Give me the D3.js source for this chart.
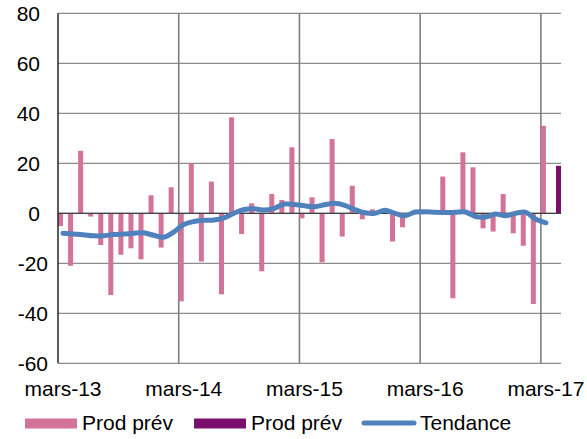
<!DOCTYPE html>
<html><head><meta charset="utf-8">
<script src="https://cdn.jsdelivr.net/npm/d3@7"></script>
<style>html,body{margin:0;padding:0;background:#fff;}svg{display:block;font-family:"Liberation Sans",Arial,sans-serif;}</style>
</head><body>
<svg id="c" width="587" height="439"></svg>
<script>
const categories = [
 "mars-13","avr.-13","mai-13","juin-13","juil.-13","août-13","sept.-13","oct.-13","nov.-13","déc.-13","janv.-14","févr.-14",
 "mars-14","avr.-14","mai-14","juin-14","juil.-14","août-14","sept.-14","oct.-14","nov.-14","déc.-14","janv.-15","févr.-15",
 "mars-15","avr.-15","mai-15","juin-15","juil.-15","août-15","sept.-15","oct.-15","nov.-15","déc.-15","janv.-16","févr.-16",
 "mars-16","avr.-16","mai-16","juin-16","juil.-16","août-16","sept.-16","oct.-16","nov.-16","déc.-16","janv.-17","févr.-17",
 "mars-17","avr.-17"];
const prodPrev = [
 -5.1,-21,25,-1.3,-12.7,-32.7,-16.6,-14,-18.4,7.2,-13.7,10.4,
 -35.2,20,-19.3,12.7,-32.4,38.4,-8.3,4,-23.2,7.7,5.3,26.4,
 -2,6.4,-19.6,29.7,-9.3,11,-2.4,1.6,0.4,-11.3,-5.6,0.5,
 -0.4,0.3,14.7,-34,24.4,18.4,-6,-7.3,7.7,-8,-13,-36.3,
 35,null];
const prodPrevLast = [null,null,null,null,null,null,null,null,null,null,null,null,
 null,null,null,null,null,null,null,null,null,null,null,null,
 null,null,null,null,null,null,null,null,null,null,null,null,
 null,null,null,null,null,null,null,null,null,null,null,null,
 null,19];
const tendance = [
 -8,-8.3,-8.6,-9,-9,-8.5,-8.3,-8,-7.8,-8.8,-9.6,-7.5,
 -4.5,-3.3,-2.8,-2.7,-1.8,0,1.5,1.8,1.3,2,3.7,3.5,
 3,2.6,3.4,4,3.2,1.5,0.2,0,1.2,0,-1,0.5,
 0.6,0.4,0.3,0.4,0.5,-1.3,-1.5,-0.3,-1,0,0.4,-2.4,
 -3.8];
const yTicks = [-60,-40,-20,0,20,40,60,80];
const xLabelIdx = [0,12,24,36,48];
const legendLabels = ["Prod prév","Prod prév","Tendance"];

const svg = d3.select("#c");
const L = 58, R = 561, T = 13.3, B = 363.3;
const FS = 21;
const x = d3.scaleBand().domain(categories).range([L, R]).padding(0);
const y = d3.scaleLinear().domain([-60, 80]).range([B, T]);
const bw = x.bandwidth();

// horizontal gridlines
svg.append("g").selectAll("line").data(yTicks).join("line")
  .attr("x1", L).attr("x2", R)
  .attr("y1", d => y(d)).attr("y2", d => y(d))
  .attr("stroke", "#8c8c8c").attr("stroke-width", 1.2);

// vertical gridlines (yearly)
svg.append("g").selectAll("line").data(xLabelIdx.slice(1)).join("line")
  .attr("x1", i => x(categories[i])).attr("x2", i => x(categories[i]))
  .attr("y1", T).attr("y2", B)
  .attr("stroke", "#7f7f7f").attr("stroke-width", 1.6);

// bars
svg.append("g").selectAll("rect").data(prodPrev.map((v,i)=>({v,c:categories[i]})).filter(d=>d.v!=null)).join("rect")
  .attr("x", d => x(d.c)).attr("width", bw/2)
  .attr("y", d => y(Math.max(0,d.v))).attr("height", d => Math.abs(y(d.v)-y(0)))
  .attr("fill", "#d4739a");
svg.append("g").selectAll("rect").data(prodPrevLast.map((v,i)=>({v,c:categories[i]})).filter(d=>d.v!=null)).join("rect")
  .attr("x", d => x(d.c)+bw/2).attr("width", bw/2)
  .attr("y", d => y(Math.max(0,d.v))).attr("height", d => Math.abs(y(d.v)-y(0)))
  .attr("fill", "#7b0f6e");

// zero axis & left axis
svg.append("line").attr("x1", L).attr("x2", R).attr("y1", y(0)).attr("y2", y(0))
  .attr("stroke", "#404040").attr("stroke-width", 1.3);
svg.append("line").attr("x1", L).attr("x2", L).attr("y1", T).attr("y2", B)
  .attr("stroke", "#262626").attr("stroke-width", 1.5);

// trend line
const line = d3.line().x((d,i)=>x(categories[i])+bw/2).y(d=>y(d)).curve(d3.curveCatmullRom.alpha(0.5));
svg.append("path").datum(tendance).attr("d", line)
  .attr("fill","none").attr("stroke","#4f81bd").attr("stroke-width",5)
  .attr("stroke-linecap","round").attr("stroke-linejoin","round");

// y labels
svg.append("g").selectAll("text").data(yTicks).join("text")
  .attr("x", d => d < 0 ? 48 : 40).attr("y", d => y(d) + 7.5)
  .attr("text-anchor","end").attr("font-size", FS).attr("fill","#000")
  .text(d => d < 0 ? "-" + Math.abs(d) : d);

// x labels
svg.append("g").selectAll("text").data(xLabelIdx).join("text")
  .attr("x", i => x(categories[i]) + bw/2).attr("y", 396)
  .attr("text-anchor","middle").attr("font-size", FS).attr("fill","#000")
  .text(i => categories[i]);

// legend
const lg = svg.append("g");
lg.append("rect").attr("x",25).attr("y",418.5).attr("width",52).attr("height",10).attr("fill","#d4739a");
lg.append("text").attr("x",82).attr("y",429.5).attr("font-size",FS).text(legendLabels[0]);
lg.append("rect").attr("x",194).attr("y",418.5).attr("width",52).attr("height",10).attr("fill","#7b0f6e");
lg.append("text").attr("x",251).attr("y",429.5).attr("font-size",FS).text(legendLabels[1]);
lg.append("line").attr("x1",364).attr("x2",414).attr("y1",423).attr("y2",423)
  .attr("stroke","#4f81bd").attr("stroke-width",5).attr("stroke-linecap","round");
lg.append("text").attr("x",420).attr("y",429.5).attr("font-size",FS).text(legendLabels[2]);
</script>
</body></html>
